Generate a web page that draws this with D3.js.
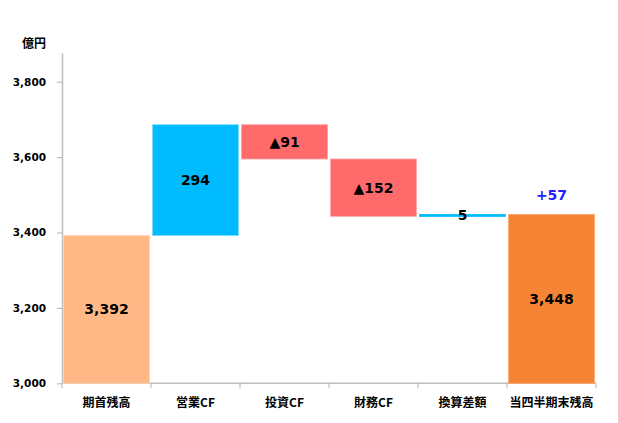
<!DOCTYPE html>
<html><head><meta charset="utf-8">
<script src="https://cdn.jsdelivr.net/npm/d3@7"></script>
<style>
body{margin:0;background:#fff;}
svg{display:block;}
</style></head>
<body>
<svg id="c" width="618" height="423"></svg>
<script>
const categories = ["期首残高","営業CF","投資CF","財務CF","換算差額","当四半期末残高"];
const values = [3392, 294, -91, -152, 5, 3448];
const kinds = ["total","delta","delta","delta","delta","total"];
const barLabels = ["3,392","294","▲91","▲152","5","3,448"];
const yTicks = [3000, 3200, 3400, 3600, 3800];
const unitLabel = "億円";
const changeLabel = "+57";

const colors = ["#FFB886","#00BCFF","#FF6B6B","#FF6B6B","#00BCFF","#F58535"];
const strokes = ["#FFD3B3","#7ADCFF","#FFA3A3","#FFA3A3","#00BCFF","#F9A770"];

const svg = d3.select("#c");
const mLeft = 62, mRight = 596, mTop = 52.7, mBottom = 383.3;

const x = d3.scaleBand().domain(categories).range([mLeft, mRight]).paddingInner(0.035).paddingOuter(0.0175);
const xb = d3.scaleBand().domain(categories).range([mLeft, mRight]);
const y = d3.scaleLinear().domain([3000, 3877]).range([mBottom, mTop]);

let run = 0;
const bars = categories.map((c, i) => {
  let y0, y1;
  if (kinds[i] === "total") { y0 = 3000; y1 = values[i]; run = values[i]; }
  else { y0 = run; y1 = run + values[i]; run = y1; }
  return {c, i, lo: Math.min(y0, y1), hi: Math.max(y0, y1)};
});

// y axis
const yAxis = d3.axisLeft(y).tickValues(yTicks).tickFormat(d3.format(",")).tickSize(5).tickSizeOuter(0);
const gy = svg.append("g").attr("transform", `translate(${mLeft},0)`).call(yAxis);
gy.select(".domain").attr("stroke", "#BFBFBF").attr("stroke-width", 1.5);
gy.selectAll(".tick line").attr("stroke", "#BFBFBF").attr("stroke-width", 1.2);
gy.selectAll(".tick text").attr("font-family", "'DejaVu Sans', Verdana, sans-serif")
  .attr("font-weight", "bold").attr("font-size", 10.5).attr("fill", "#000").attr("x", -16);

// x axis
const gx = svg.append("g").attr("transform", `translate(0,${mBottom})`);
gx.append("line").attr("x1", mLeft).attr("x2", mRight).attr("y1", 0).attr("y2", 0)
  .attr("stroke", "#BFBFBF").attr("stroke-width", 1.5);
gx.selectAll("line.t").data(categories.concat(["_end"])).join("line").attr("class","t")
  .attr("x1", (d, i) => i < categories.length ? xb(d) : mRight)
  .attr("x2", (d, i) => i < categories.length ? xb(d) : mRight)
  .attr("y1", 0).attr("y2", 5).attr("stroke", "#BFBFBF").attr("stroke-width", 1.2);
gx.selectAll("text").data(categories).join("text")
  .attr("x", d => xb(d) + xb.bandwidth() / 2).attr("y", 24)
  .attr("text-anchor", "middle")
  .attr("font-family", "'Noto Sans CJK JP', sans-serif").attr("font-weight", "bold")
  .attr("font-size", 12).attr("fill", "#000").text(d => d);

// unit
svg.append("text").attr("x", 34).attr("y", 48).attr("text-anchor", "middle")
  .attr("font-family", "'Noto Sans CJK JP', sans-serif").attr("font-weight", "bold")
  .attr("font-size", 12).attr("fill", "#000").text(unitLabel);

// bars
svg.append("g").selectAll("rect").data(bars).join("rect")
  .attr("x", d => x(d.c)).attr("width", x.bandwidth())
  .attr("y", d => y(d.hi)).attr("height", d => Math.max(2, y(d.lo) - y(d.hi)))
  .attr("fill", d => colors[d.i]).attr("stroke", d => strokes[d.i]).attr("stroke-width", 0.8);

// labels
svg.append("g").selectAll("text").data(bars).join("text")
  .attr("x", d => x(d.c) + x.bandwidth() / 2)
  .attr("y", d => (y(d.hi) + y(d.lo)) / 2)
  .attr("dy", "0.36em").attr("text-anchor", "middle")
  .attr("font-family", "'DejaVu Sans', Verdana, sans-serif").attr("font-weight", "bold")
  .attr("font-size", 14).attr("fill", "#000").text(d => barLabels[d.i]);

// change label
const last = bars[bars.length - 1];
svg.append("text").attr("x", x(last.c) + x.bandwidth() / 2).attr("y", y(last.hi) - 14)
  .attr("text-anchor", "middle")
  .attr("font-family", "'DejaVu Sans', Verdana, sans-serif").attr("font-weight", "bold")
  .attr("font-size", 14).attr("fill", "#1F1FFF").text(changeLabel);
</script>
</body></html>
